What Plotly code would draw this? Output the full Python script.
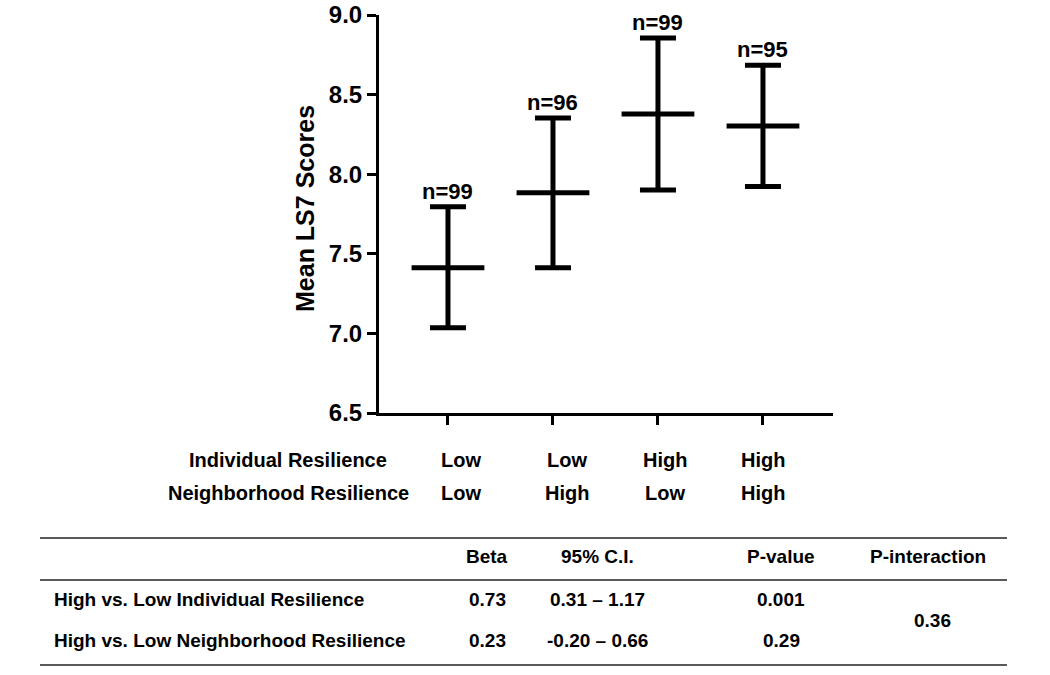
import plotly.graph_objects as go

# ---- data ----
groups = [0, 1, 2, 3]
means = [7.413, 7.884, 8.378, 8.303]
lower = [7.036, 7.413, 7.900, 7.922]
upper = [7.796, 8.353, 8.856, 8.684]
n_labels = ["n=99", "n=96", "n=99", "n=95"]

row_names = ["Individual Resilience", "Neighborhood Resilience"]
individual = ["Low", "Low", "High", "High"]
neighborhood = ["Low", "High", "Low", "High"]

table_header = ["Beta", "95% C.I.", "P-value", "P-interaction"]
table_rows = ["High vs. Low Individual Resilience", "High vs. Low Neighborhood Resilience"]
beta = ["0.73", "0.23"]
ci = ["0.31 \u2013 1.17", "-0.20 \u2013 0.66"]
pvalue = ["0.001", "0.29"]
p_interaction = "0.36"

FONT = "Liberation Sans, Arial, Helvetica, sans-serif"
W, H = 1050, 675
OFF = 0  # page body margin removed via post_script
# plot area in screen pixels: x 379..833, y 15..413
L = 379 - OFF
R = W - (833 - OFF)
T = 15 - OFF
B = H - (413 - OFF)
PW, PH = W - L - R, H - T - B


def px(x):
    return (x - OFF - L) / PW


def py(y):
    return (H - B - (y - OFF)) / PH


err_plus = [u - m for u, m in zip(upper, means)]
err_minus = [m - lo for m, lo in zip(means, lower)]

fig = go.Figure()
fig.add_trace(go.Scatter(
    x=groups, y=means, mode="markers",
    marker=dict(symbol="line-ew", size=52, color="black",
                line=dict(width=5, color="black")),
    error_y=dict(type="data", array=err_plus, arrayminus=err_minus,
                 color="black", thickness=5, width=18, symmetric=False),
    showlegend=False, hoverinfo="skip",
))

annotations = []
for g, u, t in zip(groups, upper, n_labels):
    annotations.append(dict(x=g, y=u, xref="x", yref="y", text=t, showarrow=False,
                            yanchor="bottom", yshift=1,
                            font=dict(family=FONT, size=22, color="black", weight="bold")))

# y axis title
annotations.append(dict(x=px(305), y=py(209), xref="paper", yref="paper",
                        text="Mean LS7 Scores", textangle=-90, showarrow=False,
                        xanchor="center", yanchor="middle",
                        font=dict(family=FONT, size=25, color="black", weight="bold")))

# condition rows below the axis
col_px = [461, 567, 665, 763]
row_py = [460, 493]
row_font = dict(family=FONT, size=20, color="black", weight="bold")
for r, (name, vals) in enumerate(zip(row_names, [individual, neighborhood])):
    annotations.append(dict(x=px(288), y=py(row_py[r]), xref="paper", yref="paper",
                            text=name, showarrow=False, xanchor="center", yanchor="middle",
                            font=row_font))
    for c, v in zip(col_px, vals):
        annotations.append(dict(x=px(c), y=py(row_py[r]), xref="paper", yref="paper",
                                text=v, showarrow=False, xanchor="center", yanchor="middle",
                                font=row_font))

# table
tab_cols = [487, 597, 781, 928]
tab_font = dict(family=FONT, size=19, color="black", weight="bold")
for c, h in zip(tab_cols, table_header):
    annotations.append(dict(x=px(c), y=py(556), xref="paper", yref="paper", text=h,
                            showarrow=False, xanchor="center", yanchor="middle", font=tab_font))
row_y = [599, 640]
for i, name in enumerate(table_rows):
    annotations.append(dict(x=px(52), y=py(row_y[i]), xref="paper", yref="paper", text=name,
                            showarrow=False, xanchor="left", yanchor="middle", font=tab_font))
    for c, v in zip(tab_cols[:3], [beta[i], ci[i], pvalue[i]]):
        annotations.append(dict(x=px(c), y=py(row_y[i]), xref="paper", yref="paper", text=v,
                                showarrow=False, xanchor="center", yanchor="middle", font=tab_font))
annotations.append(dict(x=px(932), y=py(620), xref="paper", yref="paper", text=p_interaction,
                        showarrow=False, xanchor="center", yanchor="middle", font=tab_font))

shapes = []
for ly in [538, 580, 665]:
    shapes.append(dict(type="line", xref="paper", yref="paper",
                       x0=px(40), x1=px(1007), y0=py(ly), y1=py(ly),
                       line=dict(color="#222222", width=1.6)))

fig.update_layout(
    width=W, height=H,
    margin=dict(l=L, r=R, t=T, b=B, autoexpand=False),
    plot_bgcolor="white", paper_bgcolor="white",
    annotations=annotations, shapes=shapes,
    xaxis=dict(range=[-0.657, 3.667], tickmode="array", tickvals=groups,
               showticklabels=False, ticks="outside", ticklen=9, tickwidth=3,
               tickcolor="black", showline=True, linewidth=3, linecolor="black",
               showgrid=False, zeroline=False, fixedrange=True, automargin=False),
    yaxis=dict(range=[6.5, 9.0], tickmode="array",
               tickvals=[6.5, 7.0, 7.5, 8.0, 8.5, 9.0],
               ticktext=["6.5", "7.0", "7.5", "8.0", "8.5", "9.0"],
               ticks="outside", ticklen=9, tickwidth=3, tickcolor="black",
               showline=True, linewidth=3, linecolor="black",
               showgrid=False, zeroline=False, automargin=False, fixedrange=True,
               ticklabeloverflow="allow",
               tickfont=dict(family=FONT, size=24, color="black", weight="bold")),
)

fig.write_html("out.html",
               config={"displayModeBar": False, "staticPlot": True},
               post_script="document.body.style.margin='0';document.body.style.overflow='hidden';")
